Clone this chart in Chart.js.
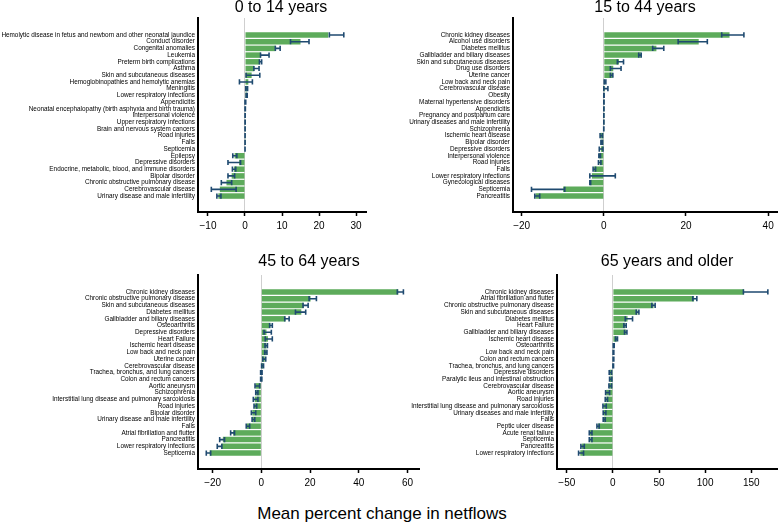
<!DOCTYPE html>
<html><head><meta charset="utf-8">
<script src="https://cdn.jsdelivr.net/npm/chart.js@4"></script>
<style>
body{margin:0;background:#fff;width:778px;height:523px;overflow:hidden;position:relative;font-family:"Liberation Sans",Arial,sans-serif}
.t{position:absolute;font-size:16px;color:#000;transform:translateX(-50%);white-space:nowrap;line-height:16px}
canvas{position:absolute}
</style></head><body>
<script>
// ---------- DATA ----------
const cats1 = ["Hemolytic disease in fetus and newborn and other neonatal jaundice","Conduct disorder","Congenital anomalies","Leukemia","Preterm birth complications","Asthma","Skin and subcutaneous diseases","Hemoglobinopathies and hemolytic anemias","Meningitis","Lower respiratory infections","Appendicitis","Neonatal encephalopathy (birth asphyxia and birth trauma)","Interpersonal violence","Upper respiratory infections","Brain and nervous system cancers","Road injuries","Falls","Septicemia","Epilepsy","Depressive disorders","Endocrine, metabolic, blood, and immune disorders","Bipolar disorder","Chronic obstructive pulmonary disease","Cerebrovascular disease","Urinary disease and male infertility"];
const vals1 = [22.5,15.0,8.3,4.3,4.0,2.5,1.8,0.9,0.6,0.5,0.1,0.05,0.03,0.02,0.02,0.01,0.01,0.0,-2.8,-1.6,-3.0,-3.6,-5.0,-6.8,-7.2];
const lo1 = [22.8,12.3,8.2,4.2,3.9,2.4,0.3,-1.5,0.2,0.3,0.0,0.0,0.0,0.0,0.0,0.0,0.0,0.0,-3.3,-4.6,-3.4,-4.6,-6.4,-9.1,-7.6];
const hi1 = [26.7,17.3,9.5,6.5,4.5,3.8,4.0,2.0,0.7,0.6,0.2,0.1,0.05,0.05,0.04,0.03,0.03,0.02,-2.2,-1.2,-2.5,-2.8,-3.6,-2.4,-6.5];
const ticks1 = [-10,0,10,20,30];

const cats2 = ["Chronic kidney diseases","Alcohol use disorders","Diabetes mellitus","Gallbladder and biliary diseases","Skin and subcutaneous diseases","Drug use disorders","Uterine cancer","Low back and neck pain","Cerebrovascular disease","Obesity","Maternal hypertensive disorders","Appendicitis","Pregnancy and postpartum care","Urinary diseases and male infertility","Schizophrenia","Ischemic heart disease","Bipolar disorder","Depressive disorders","Interpersonal violence","Road injuries","Falls","Lower respiratory infections","Gynecological diseases","Septicemia","Pancreatitis"];
const vals2 = [30.6,23.1,12.8,9.0,3.7,2.3,2.1,0.3,0.3,0.05,0.03,0.02,0.01,0.01,0.0,-0.8,-0.6,-0.7,-1.1,-1.0,-2.4,-2.9,-3.3,-9.9,-16.6];
const lo2 = [28.7,18.1,11.9,8.5,3.3,1.6,1.6,0.1,0.0,0.0,0.0,0.0,0.0,0.0,-0.02,-0.9,-0.7,-1.1,-1.2,-1.3,-2.6,-3.4,-3.4,-17.6,-16.8];
const hi2 = [34.1,25.2,14.6,9.1,4.8,4.2,2.2,0.5,1.0,0.08,0.06,0.05,0.03,0.03,0.02,-0.3,-0.3,-0.2,-0.8,-0.7,-2.0,2.8,-3.2,-9.5,-15.6];
const ticks2 = [-20,0,20,40];

const cats3 = ["Chronic kidney diseases","Chronic obstructive pulmonary disease","Skin and subcutaneous diseases","Diabetes mellitus","Gallbladder and biliary diseases","Osteoarthritis","Depressive disorders","Heart Failure","Ischemic heart disease","Low back and neck pain","Uterine cancer","Cerebrovascular disease","Trachea, bronchus, and lung cancers","Colon and rectum cancers","Aortic aneurysm","Schizophrenia","Interstitial lung disease and pulmonary sarcoidosis","Road injuries","Bipolar disorder","Urinary disease and male infertility","Falls","Atrial fibrillation and flutter","Pancreatitis","Lower respiratory infections","Septicemia"];
const vals3 = [56.2,20.2,17.4,16.4,9.9,3.7,2.1,2.7,2.1,2.1,1.4,0.7,0.2,0.1,-2.3,-2.1,-2.7,-2.7,-3.7,-3.7,-5.9,-11.6,-15.8,-16.4,-21.2];
const lo3 = [55.8,19.6,17.1,14.0,9.6,3.4,1.1,1.6,1.5,1.4,0.6,0.1,-0.3,-0.3,-2.6,-2.3,-3.3,-3.0,-4.1,-3.8,-6.2,-12.6,-17.1,-18.1,-22.6];
const hi3 = [58.3,22.6,19.2,18.2,11.4,4.5,4.1,4.5,2.5,2.3,1.8,0.9,0.3,0.2,-0.7,-1.4,-1.4,-1.9,-2.3,-2.7,-4.8,-11.0,-15.1,-16.2,-20.8];
const ticks3 = [-20,0,20,40,60];

const cats4 = ["Chronic kidney diseases","Atrial fibrillation and flutter","Chronic obstructive pulmonary disease","Skin and subcutaneous diseases","Diabetes mellitus","Heart Failure","Gallbladder and biliary diseases","Ischemic heart disease","Osteoarthritis","Low back and neck pain","Colon and rectum cancers","Trachea, bronchus, and lung cancers","Depressive disorders","Paralytic ileus and intestinal obstruction","Cerebrovascular disease","Aortic aneurysm","Road injuries","Interstitial lung disease and pulmonary sarcoidosis","Urinary diseases and male infertility","Falls","Peptic ulcer disease","Acute renal failure","Septicemia","Pancreatitis","Lower respiratory infections"];
const vals4 = [142,88,44,26.7,15.9,13.4,14.1,4.3,1.1,0.7,0.7,0.4,-3.6,-3.2,-4.0,-7.2,-7.2,-10.1,-9.7,-9.7,-16.2,-24.9,-24.5,-33.6,-35.4];
const lo4 = [141.5,86.6,42.2,25.3,13.4,11.9,12.6,2.9,0.4,0.2,0.2,0.0,-4.0,-3.6,-4.3,-7.9,-8.3,-10.8,-10.5,-10.5,-17.3,-25.6,-25.6,-34.7,-37.2];
const hi4 = [168,91,45.8,28.2,21.3,14.4,15.2,5.0,1.4,1.0,1.0,0.7,-1.4,-1.1,-1.4,-3.6,-5.8,-7.2,-7.6,-8.3,-14.8,-22.7,-22.7,-31.0,-31.8];
const ticks4 = [-50,0,50,100,150];

const titles = ["0 to 14 years","15 to 44 years","45 to 64 years","65 years and older"];
const axisTitle = "Mean percent change in netflows";

// ---------- DRAWING ----------
const GREEN = '#5dab5b', NAVY = '#1f4a70';
function errPlugin(lo, hi){
  return { id:'err', afterDatasetsDraw(chart){
    const xs = chart.scales.x, ys = chart.scales.y, c = chart.ctx;
    c.save(); c.strokeStyle = NAVY; c.lineWidth = 1.6;
    lo.forEach((l,i)=>{
      const x1 = xs.getPixelForValue(l), x2 = xs.getPixelForValue(hi[i]), y = ys.getPixelForValue(i);
      c.beginPath();
      c.moveTo(x1,y); c.lineTo(x2,y);
      c.moveTo(x1,y-2.6); c.lineTo(x1,y+2.6);
      c.moveTo(x2,y-2.6); c.lineTo(x2,y+2.6);
      c.stroke();
    });
    c.restore();
  }};
}
function panel(p){
  const cv = document.createElement('canvas');
  cv.style.left = p.left+'px'; cv.style.top = p.top+'px';
  cv.style.width = p.w+'px'; cv.style.height = p.h+'px';
  cv.width = p.w; cv.height = p.h;
  document.body.appendChild(cv);
  const t = document.createElement('div'); t.className='t'; t.textContent = p.title;
  t.style.left = p.tx+'px'; t.style.top = p.ty+'px'; document.body.appendChild(t);
  new Chart(cv, {
    type:'bar',
    data:{ datasets:[{ data: p.vals.map((v,i)=>({x:v,y:i})), backgroundColor:GREEN, borderWidth:0,
      categoryPercentage:1, barPercentage:0.82 }] },
    options:{
      indexAxis:'y', responsive:false, animation:false, devicePixelRatio:1,
      layout:{ padding:{ top:18, right:p.padR, left:0, bottom:0 } },
      plugins:{ legend:{display:false}, tooltip:{enabled:false} },
      scales:{
        y:{ type:'linear', reverse:true, min:-1.95, max:p.cats.length+0.8,
          afterBuildTicks:s=>{ s.ticks = p.cats.map((_,i)=>({value:i})); },
          afterFit:s=>{ s.width = p.yw; },
          grid:{ display:false, drawTicks:false },
          border:{ display:true, color:'#000', width:2 },
          ticks:{ autoSkip:false, padding:3, color:'#000', font:{ family:'"Liberation Sans", Arial, sans-serif', size:6.4 },
            callback:v=>p.cats[v] }
        },
        x:{ type:'linear', min:p.xmin, max:p.xmax,
          afterBuildTicks:s=>{ s.ticks = p.ticks.map(v=>({value:v})); },
          afterFit:s=>{ s.height = 28; },
          grid:{ drawOnChartArea:true, color:c=> (c.tick && c.tick.value===0) ? '#cfcfcf' : 'rgba(0,0,0,0)', lineWidth:1,
            drawTicks:true, tickLength:4, tickColor:'#000', tickWidth:1.5 },
          border:{ display:true, color:'#000', width:2 },
          ticks:{ autoSkip:false, maxRotation:0, padding:4, color:'#000', font:{ family:'"Liberation Sans", Arial, sans-serif', size:10 },
            callback:v=> v<0 ? '\u2212'+Math.abs(v) : String(v) }
        }
      }
    },
    plugins:[errPlugin(p.lo,p.hi)]
  });
}
panel({left:0,top:0,w:372,h:240,yw:198,padR:6,cats:cats1,vals:vals1,lo:lo1,hi:hi1,ticks:ticks1,xmin:-12.7,xmax:32.7,title:titles[0],tx:281,ty:-1.5});
panel({left:390,top:0,w:388,h:240,yw:123,padR:0,cats:cats2,vals:vals2,lo:lo2,hi:hi2,ticks:ticks2,xmin:-22.1,xmax:42.4,title:titles[1],tx:645,ty:-1.5});
panel({left:0,top:257,w:425,h:240,yw:198,padR:6,cats:cats3,vals:vals3,lo:lo3,hi:hi3,ticks:ticks3,xmin:-26,xmax:64.7,title:titles[2],tx:309,ty:253});
panel({left:390,top:257,w:388,h:240,yw:167,padR:0,cats:cats4,vals:vals4,lo:lo4,hi:hi4,ticks:ticks4,xmin:-60.6,xmax:179,title:titles[3],tx:667,ty:253});
const at = document.createElement('div'); at.className='t'; at.style.fontSize='17px'; at.style.lineHeight='17px';
at.textContent = axisTitle; at.style.left='382px'; at.style.top='505px'; document.body.appendChild(at);
</script>
</body></html>
